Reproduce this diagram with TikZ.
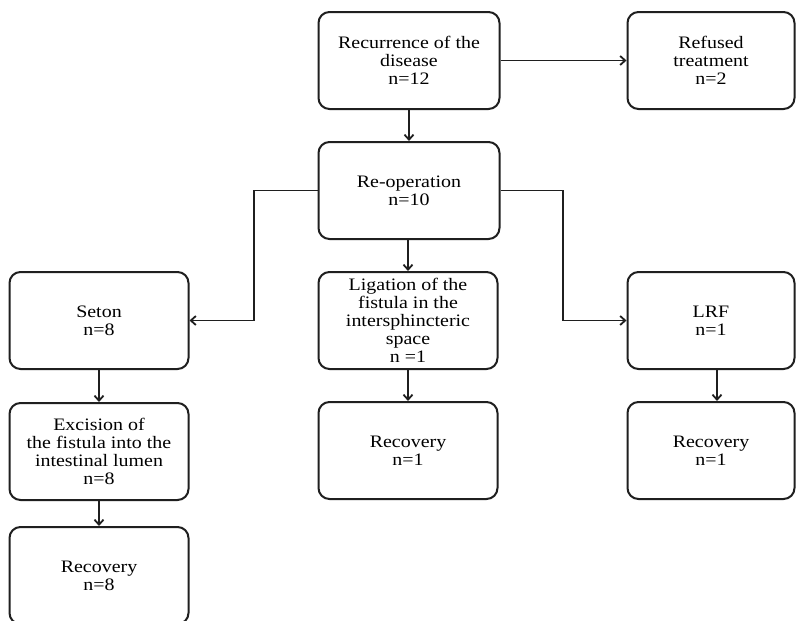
\documentclass[tikz,border=0pt]{standalone}
\usepackage{fontspec}
\setmainfont[FakeStretch=1.14]{Liberation Serif}
\usetikzlibrary{arrows.meta}
\begin{document}
\begin{tikzpicture}[x=1pt,y=-1pt,
  box/.style={draw=black!88, line width=2pt, rounded corners=11pt, inner sep=0pt,
    minimum height=97pt, align=center, font=\fontsize{17.5}{18}\selectfont},
  wbig/.style={box, minimum width=181pt},
  wmid/.style={box, minimum width=179pt},
  wsml/.style={box, minimum width=167pt},
  arr/.style={draw=black!88, line width=1.8pt, -{Straight Barb[length=5pt,width=9pt]}}]
\useasboundingbox (0,0) rectangle (796,621);
\clip (0,0) rectangle (796,621);
\fill[white] (0,0) rectangle (796,621);
\node[wbig] (rec) at (409,60.5) {Recurrence of the\\disease\\n=12};
\node[wsml] (ref) at (711,60.5) {Refused\\treatment\\n=2};
\node[wbig] (reop) at (409,190.5) {Re-operation\\n=10};
\node[wmid] (seton) at (99,320.5) {Seton\\n=8};
\node[wmid] (lig) at (408,320.5) {Ligation of the\\fistula in the\\intersphincteric\\space\\n =1};
\node[wsml] (lrf) at (711,320.5) {LRF\\n=1};
\node[wmid] (exc) at (99,451.5) {Excision of\\the fistula into the\\intestinal lumen\\n=8};
\node[wmid] (rc1) at (408,450.5) {Recovery\\n=1};
\node[wsml] (rc2) at (711,450.5) {Recovery\\n=1};
\node[wmid] (rc8) at (99,575.5) {Recovery\\n=8};
\coordinate (lc) at (254,0);
\coordinate (rcx) at (563,0);
\draw[arr] (rec.east) -- (ref.west);
\draw[arr] (rec.south) -- (reop.north -| rec.south);
\draw[arr] (reop.south -| lig.north) -- (lig.north);
\draw[arr] (reop.west) -- (reop.west -| lc) -- (lc |- seton.east) -- (seton.east);
\draw[arr] (reop.east) -- (reop.east -| rcx) -- (rcx |- lrf.west) -- (lrf.west);
\draw[arr] (seton.south) -- (exc.north);
\draw[arr] (exc.south) -- (rc8.north);
\draw[arr] (lig.south) -- (rc1.north);
\draw[arr] ([xshift=6pt]lrf.south) -- ([xshift=6pt]rc2.north);
\end{tikzpicture}
\end{document}
